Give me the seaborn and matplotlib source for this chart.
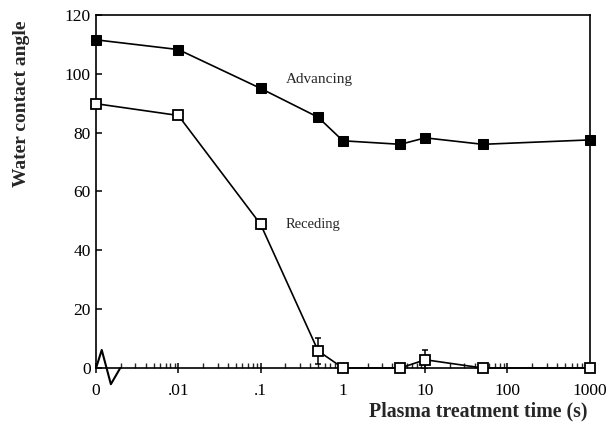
import numpy as np
import pandas as pd
import seaborn as sns
import matplotlib
matplotlib.use("Agg")
import matplotlib.pyplot as plt
from matplotlib.ticker import FixedLocator, FixedFormatter, LogLocator

sns.set_style("ticks")
plt.rcParams['font.family'] = ['Liberation Serif', 'DejaVu Serif']

# data
time_s = [0.001, 0.01, 0.1, 0.5, 1, 5, 10, 50, 1000]   # 0.001 stands for "0"
advancing = [111.5, 108.2, 95.0, 85.2, 77.2, 76.0, 78.2, 76.0, 77.5]
receding = [89.8, 85.8, 48.8, 5.8, 0.0, 0.0, 2.8, 0.0, 0.0]
receding_err = [1.0, 0.5, 1.5, 4.3, 0.0, 0.0, 3.3, 0.0, 0.0]
xtick_vals = [0.001, 0.01, 0.1, 1, 10, 100, 1000]
xtick_labels = ["0", ".01", ".1", "1", "10", "100", "1000"]
yticks = [0, 20, 40, 60, 80, 100, 120]

df = pd.DataFrame({"t": time_s * 2,
                   "angle": advancing + receding,
                   "series": ["Advancing"] * len(time_s) + ["Receding"] * len(time_s)})

fig = plt.figure(figsize=(6.08, 4.36), dpi=100)
ax = fig.add_axes([0.158, 0.156, 0.812, 0.810])

ax.errorbar(time_s, receding, yerr=receding_err, fmt="none", ecolor="black",
            elinewidth=1.1, capsize=2, capthick=1.1, zorder=2)
sns.lineplot(data=df[df.series == "Advancing"], x="t", y="angle", ax=ax,
             color="black", lw=1.2, marker="s", markersize=6.5,
             markerfacecolor="black", markeredgecolor="black", legend=False,
             zorder=3, clip_on=False)
sns.lineplot(data=df[df.series == "Receding"], x="t", y="angle", ax=ax,
             color="black", lw=1.2, marker="s", markersize=7,
             markerfacecolor="white", markeredgecolor="black", markeredgewidth=1.3,
             legend=False, zorder=4, clip_on=False)

ax.set_xscale("log")
ax.set_xlim(0.001, 1000)
ax.set_ylim(0, 120)
ax.xaxis.set_major_locator(FixedLocator(xtick_vals))
ax.xaxis.set_major_formatter(FixedFormatter(xtick_labels))
ax.xaxis.set_minor_locator(LogLocator(base=10, subs=np.arange(2, 10)))
ax.set_yticks(yticks)
ax.set_yticklabels([str(v) for v in yticks])

for s in ax.spines.values():
    s.set_linewidth(1.2)
    s.set_color("black")
    s.set_visible(True)

ax.tick_params(axis="x", which="major", direction="inout", length=7, width=1.1,
               labelsize=12.5, pad=7, colors="black")
ax.tick_params(axis="x", which="minor", direction="in", length=3.5, width=1)
ax.tick_params(axis="y", which="major", direction="in", length=4, width=1.1,
               labelsize=12.5, pad=4, colors="black")

ax.set_xlabel("")
ax.set_ylabel("")
fig.text(0.036, 0.762, "Water contact angle", rotation=90, fontsize=14,
         fontweight="bold", ha="center", va="center")
fig.text(0.966, 0.057, "Plasma treatment time (s)", fontsize=14.3,
         fontweight="bold", ha="right", va="center")

ax.text(0.205, 98, "Advancing", fontsize=11, ha="left", va="center")
ax.text(0.2, 48.6, "Receding", fontsize=10.5, ha="left", va="center")

# axis break squiggle near the "0" position
ax.plot([0, 0.0115, 0.030, 0.049], [0, 0.051, -0.046, 0], transform=ax.transAxes,
        color="black", lw=1.5, clip_on=False, zorder=5)

fig.savefig("out.png", dpi=100)
